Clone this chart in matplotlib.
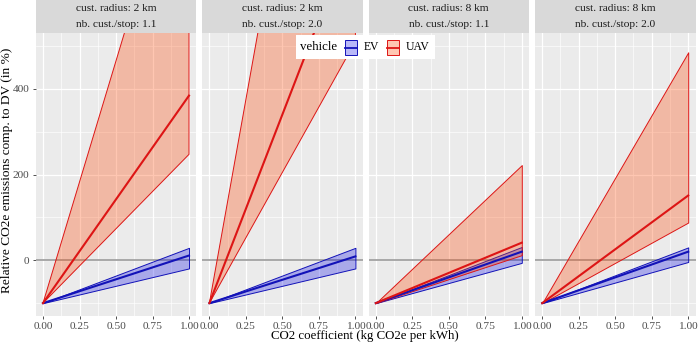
import matplotlib
matplotlib.use("Agg")
import matplotlib.pyplot as plt
from matplotlib.patches import Rectangle
from matplotlib.lines import Line2D

W, H = 698, 343
plt.rcParams['font.family'] = ['Liberation Serif', 'DejaVu Serif']

# CO2 coefficient range, values are relative emissions vs DV (%) at each end
co2 = [0.0, 1.0]
radius = ['2 km', '2 km', '8 km', '8 km']
cust_per_stop = ['1.1', '2.0', '1.1', '2.0']

ev_mean = [[-100, 11], [-100, 9], [-100, 20], [-100, 20]]
ev_low = [[-100, -19], [-100, -19], [-100, -6], [-100, -4]]
ev_high = [[-100, 29], [-100, 29], [-100, 31], [-100, 30]]
uav_mean = [[-100, 384], [-100, 780], [-100, 41], [-100, 151]]
uav_low = [[-100, 247], [-100, 510], [-100, 12], [-100, 88]]
uav_high = [[-100, 1030], [-100, 1800], [-100, 222], [-100, 485]]

xticks = [0, 0.25, 0.5, 0.75, 1.0]
xlabels = ['0.00', '0.25', '0.50', '0.75', '1.00']
yticks = [0, 200, 400]

EV_LINE = '#1212B8'
UAV_LINE = '#DD1515'
EV_FILL = (0.0, 0.0, 0.9, 0.28)
UAV_FILL = (1.0, 0.27, 0.0, 0.3)


def fx(px):
    return px / W


def fy(py):
    return 1 - py / H


fig = plt.figure(figsize=(W / 100, H / 100), dpi=100)

top, bottom = 33, 316
left0, pw, step = 35.7, 160.6, 166.4

for i in range(4):
    l = left0 + i * step
    ax = fig.add_axes([fx(l), fy(bottom), pw / W, (bottom - top) / H])
    ax.set_facecolor('#EBEBEB')
    ax.set_xlim(-0.05, 1.05)
    ax.set_ylim(-130, 530)
    ax.set_xticks(xticks)
    ax.set_xticks([0.125, 0.375, 0.625, 0.875], minor=True)
    ax.set_yticks(yticks)
    ax.set_yticks([-100, 100, 300, 500], minor=True)
    ax.set_xticklabels(xlabels)
    if i > 0:
        ax.tick_params(axis='y', which='both', left=False, labelleft=False)
    ax.tick_params(which='major', length=2.5, width=0.6, color='#333333',
                   labelsize=8.2, labelcolor='#4D4D4D', pad=2)
    ax.tick_params(which='minor', length=0)
    ax.grid(which='major', color='white', linewidth=0.9)
    ax.grid(which='minor', color='white', linewidth=0.45)
    ax.set_axisbelow(True)
    for s in ax.spines.values():
        s.set_visible(False)

    ax.axhline(0, color='#A8A8A8', linewidth=1.4, zorder=1)
    ax.fill_between(co2, ev_low[i], ev_high[i], facecolor=EV_FILL,
                    edgecolor=EV_LINE, linewidth=0.7, zorder=2)
    ax.fill_between(co2, uav_low[i], uav_high[i], facecolor=UAV_FILL,
                    edgecolor=UAV_LINE, linewidth=0.7, zorder=2)
    ax.plot(co2, ev_mean[i], color=EV_LINE, linewidth=1.5, zorder=3)
    ax.plot(co2, uav_mean[i], color=UAV_LINE, linewidth=1.5, zorder=3)

    # facet strip
    sx = fig.add_axes([fx(l), fy(top), pw / W, top / H])
    sx.set_facecolor('#D9D9D9')
    sx.set_xticks([])
    sx.set_yticks([])
    for s in sx.spines.values():
        s.set_visible(False)
    sx.text(0.5, 0.73, 'cust. radius: ' + radius[i], ha='center', va='center',
            fontsize=8.2, color='#1A1A1A', transform=sx.transAxes)
    sx.text(0.5, 0.25, 'nb. cust./stop: ' + cust_per_stop[i], ha='center',
            va='center', fontsize=8.2, color='#1A1A1A', transform=sx.transAxes)

fig.text(fx(365), fy(336), 'CO2 coefficient (kg CO2e per kWh)', ha='center',
         va='center', fontsize=9.3)
fig.text(fx(7.5), fy(170), 'Relative CO2e emissions comp. to DV (in %)',
         ha='center', va='center', rotation=90, fontsize=9.6)

# legend box
fig.add_artist(Rectangle((fx(296), fy(59)), 139 / W, 24 / H, facecolor='white',
                         edgecolor='none', transform=fig.transFigure, zorder=5))
fig.text(fx(300), fy(47), 'vehicle', ha='left', va='center', fontsize=9.3,
         zorder=6)
for kx, fc, lc, lab in [(345, EV_FILL, EV_LINE, 'EV'),
                        (387, UAV_FILL, UAV_LINE, 'UAV')]:
    fig.add_artist(Rectangle((fx(kx), fy(55)), 12 / W, 15 / H, facecolor=fc,
                             edgecolor=lc, linewidth=0.7,
                             transform=fig.transFigure, zorder=6))
    fig.add_artist(Line2D([fx(kx), fx(kx + 12)], [fy(47.5), fy(47.5)],
                          color=lc, linewidth=1.3, transform=fig.transFigure,
                          zorder=7))
    fig.text(fx(kx + 19), fy(47), lab, ha='left', va='center', fontsize=8.4,
             zorder=6)

fig.savefig('out.png', dpi=100)
